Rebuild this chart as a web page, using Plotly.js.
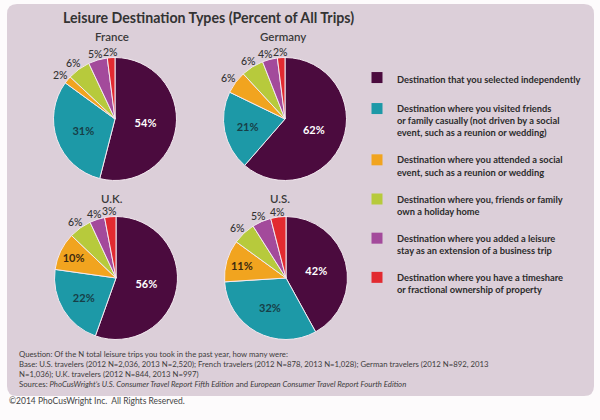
<!DOCTYPE html>
<html>
<head>
<meta charset="utf-8">
<script src="https://cdn.plot.ly/plotly-3.0.1.min.js"></script>
<style>html,body{margin:0;padding:0;background:#fdfbfc;}#chart{width:600px;height:420px;}</style>
</head>
<body>
<div id="chart"></div>
<script>
const countries = ['France', 'Germany', 'U.K.', 'U.S.'];
const categories = [
  'Destination that you selected independently',
  'Destination where you visited friends<br>or family casually (not driven by a social<br>event, such as a reunion or wedding)',
  'Destination where you attended a social<br>event, such as a reunion or wedding',
  'Destination where you, friends or family<br>own a holiday home',
  'Destination where you added a leisure<br>stay as an extension of a business trip',
  'Destination where you have a timeshare<br>or fractional ownership of property'
];
const franceValues  = [54, 31, 2, 6, 5, 2];
const germanyValues = [62, 21, 6, 6, 4, 2];
const ukValues      = [56, 22, 10, 6, 4, 3];
const usValues      = [42, 32, 11, 6, 5, 4];
const seriesValues = [franceValues, germanyValues, ukValues, usValues];

const sliceColors = ['#4b0b3e', '#1d99a7', '#f1a41f', '#b7ca3c', '#a34a9b', '#e22a30'];
const insideTextColors = ['#ffffff', '#173f47', '#3d2a10', '#333333', '#ffffff', '#ffffff'];

const FONT = 'Lato, "Open Sans", sans-serif';
const PW = 600, PH = 420;

// pie geometry (pixel centres, radius)
const pieCenters = [[115, 119], [285, 119], [116, 278], [286, 278]];
const R = 61.5;
const titlePos = [[112, 36], [283, 36], [112, 198], [280, 198]];

const traces = [];
const annotations = [];
seriesValues.forEach((vals, i) => {
  const [cx, cy] = pieCenters[i];
  traces.push({
    type: 'pie',
    values: vals,
    labels: categories,
    sort: false,
    direction: 'clockwise',
    rotation: 0,
    showlegend: false,
    hoverinfo: 'skip',
    marker: { colors: sliceColors, line: { color: '#f3e9f0', width: 1 } },
    texttemplate: '%{value}%',
    textposition: vals.map(v => v >= 10 ? 'inside' : 'none'),
    insidetextorientation: 'horizontal',
    textfont: { family: FONT, size: 11, weight: 700, color: insideTextColors },
    domain: {
      x: [(cx - R) / PW, (cx + R) / PW],
      y: [1 - (cy + R) / PH, 1 - (cy - R) / PH]
    }
  });
  // outside labels for the small slices, placed at each slice's mid-angle
  const total = vals.reduce((a, b) => a + b, 0);
  let cum = 0;
  const labs = [];
  vals.forEach((v, j) => {
    const mid = (cum + v / 2) / total;
    cum += v;
    if (v >= 10) return;
    const th = mid * 2 * Math.PI;
    const s = Math.sin(th), c = Math.cos(th);
    const d = R + 6 + 4 * Math.abs(s);
    labs.push({ v: v, px: cx + d * s, py: cy - d * c + 1 });
  });
  // keep neighbouring labels apart (walk from the top label to the left)
  for (let k = labs.length - 2; k >= 0; k--) {
    const a = labs[k], b = labs[k + 1];
    if (Math.abs(a.py - b.py) < 10 && a.px > b.px - 15) a.px = b.px - 15;
  }
  labs.forEach(l => {
    annotations.push({
      text: l.v + '%', x: l.px / PW, y: 1 - l.py / PH,
      xref: 'paper', yref: 'paper', xanchor: 'center', yanchor: 'middle',
      showarrow: false, font: { family: FONT, size: 10.5, weight: 500, color: '#333333' }
    });
  });
});

// legend entries built from the categories
categories.forEach((c, i) => {
  traces.push({
    type: 'scatter', mode: 'markers',
    x: [null], y: [null],
    name: c,
    legendgroup: 'g' + i,
    showlegend: true,
    hoverinfo: 'skip',
    marker: { symbol: 'square', size: 11, color: sliceColors[i], line: { width: 0 } }
  });
});

countries.forEach((c, i) => {
  annotations.push({
    text: c, x: titlePos[i][0] / PW, y: 1 - titlePos[i][1] / PH,
    xref: 'paper', yref: 'paper', xanchor: 'center', yanchor: 'middle',
    showarrow: false, font: { family: FONT, size: 11.5, weight: 600, color: '#3a3a3a' }
  });
});

annotations.push({
  text: 'Question: Of the N total leisure trips you took in the past year, how many were:<br>' +
        'Base: U.S. travelers (2012 N=2,036, 2013 N=2,520); French travelers (2012 N=878, 2013 N=1,028); German travelers (2012 N=892, 2013<br>' +
        'N=1,036); U.K. travelers (2012 N=844, 2013 N=997)<br>' +
        'Sources: <i>PhoCusWright\u2019s U.S. Consumer Travel Report Fifth Edition</i> and <i>European Consumer Travel Report Fourth Edition</i>',
  x: 17 / PW, y: 1 - 347 / PH, xref: 'paper', yref: 'paper',
  xanchor: 'left', yanchor: 'top', align: 'left', showarrow: false,
  font: { family: FONT, size: 7.75, color: '#3c3c3c' }
});
annotations.push({
  text: '\u00a92014 PhoCusWright Inc.\u00a0 All Rights Reserved.',
  x: 7 / PW, y: 1 - 401 / PH, xref: 'paper', yref: 'paper',
  xanchor: 'left', yanchor: 'middle', align: 'left', showarrow: false,
  font: { family: FONT, size: 8.5, color: '#444444' }
});

// rounded panel
const x0 = 7 / PW, x1 = 594 / PW, yT = 1 - 4 / PH, yB = 1 - 396 / PH;
const rx = 10 / PW, ry = 10 / PH;
const panelPath = `M ${x0 + rx},${yT} L ${x1 - rx},${yT} Q ${x1},${yT} ${x1},${yT - ry} L ${x1},${yB + ry} Q ${x1},${yB} ${x1 - rx},${yB} L ${x0 + rx},${yB} Q ${x0},${yB} ${x0},${yB + ry} L ${x0},${yT - ry} Q ${x0},${yT} ${x0 + rx},${yT} Z`;

const layout = {
  width: PW, height: PH,
  margin: { l: 0, r: 0, t: 0, b: 0 },
  paper_bgcolor: '#fdfbfc',
  plot_bgcolor: 'rgba(0,0,0,0)',
  title: {
    text: 'Leisure Destination Types (Percent of All Trips)',
    x: 63 / PW, xanchor: 'left', y: 1 - 18 / PH, yanchor: 'middle',
    font: { family: FONT, size: 14.2, weight: 700, color: '#333333' }
  },
  xaxis: { visible: false, domain: [0.99, 1] },
  yaxis: { visible: false, domain: [0.99, 1] },
  showlegend: true,
  legend: {
    x: 357 / PW, xanchor: 'left', y: 1 - 65 / PH, yanchor: 'top',
    bgcolor: 'rgba(0,0,0,0)',
    traceorder: 'grouped', tracegroupgap: 12, valign: 'top',
    font: { family: FONT, size: 9.3, weight: 700, color: '#2b2b2b' },
    itemclick: false, itemdoubleclick: false
  },
  shapes: [{
    type: 'path', xref: 'paper', yref: 'paper', path: panelPath,
    fillcolor: '#dccfd9', line: { width: 0 }, layer: 'below'
  }],
  annotations: annotations
};

Plotly.newPlot('chart', traces, layout, { displayModeBar: false, staticPlot: true });
</script>
</body>
</html>
